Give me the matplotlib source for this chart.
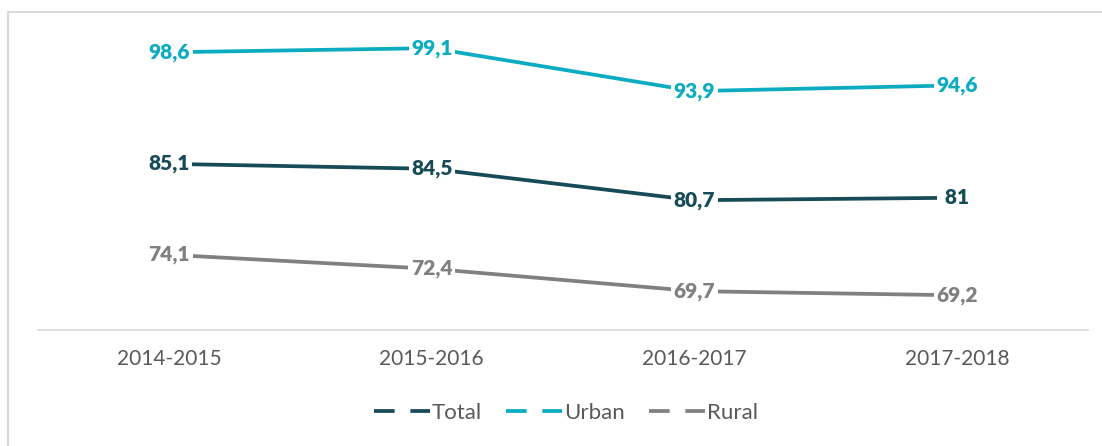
import matplotlib
matplotlib.use("Agg")
import matplotlib.pyplot as plt
from matplotlib.lines import Line2D
from matplotlib.patches import Rectangle

plt.rcParams['font.family'] = ['Lato', 'DejaVu Sans']

categories = ["2014-2015", "2015-2016", "2016-2017", "2017-2018"]
series_names = ["Total", "Urban", "Rural"]
total = [85.1, 84.5, 80.7, 81]
urban = [98.6, 99.1, 93.9, 94.6]
rural = [74.1, 72.4, 69.7, 69.2]
colors = {"Total": "#174B57", "Urban": "#0BACC2", "Rural": "#808080"}

W, H = 1102, 446
fig = plt.figure(figsize=(W / 100, H / 100), dpi=100)
fig.patch.set_facecolor("white")

# outer border (extends beyond right/bottom edge)
fig.patches.append(Rectangle((8 / W, -0.1), 1.2, 1 - 12 / H + 0.1,
                             transform=fig.transFigure, fill=False,
                             edgecolor="#D9D9D9", linewidth=1.5))

left, right = 38 / W, 1088 / W
bottom, top = 1 - 330 / H, 1 - 40.7 / H
ax = fig.add_axes([left, bottom, right - left, top - bottom])
ax.set_facecolor("none")

x = list(range(len(categories)))
data = {"Total": total, "Urban": urban, "Rural": rural}
for name in series_names:
    vals = data[name]
    c = colors[name]
    ax.plot(x, vals, color=c, linewidth=2.7, solid_capstyle="butt", zorder=2)
    for xi, v in zip(x, vals):
        s = f"{v:g}".replace(".", ",")
        s = s.center(4)
        ax.text(xi, v, s, color=c, fontsize=15, fontweight="heavy",
                ha="center", va="center", zorder=3,
                bbox=dict(boxstyle="square,pad=0.12", facecolor="white",
                          edgecolor="none"))

ax.set_xlim(-0.5, len(categories) - 0.5)
ax.set_ylim(65, 100)
ax.set_xticks(x)
ax.set_xticklabels(categories, fontsize=15, color="#595959")
ax.tick_params(axis="x", length=0, pad=14)
ax.set_yticks([])
for sp in ["top", "right", "left"]:
    ax.spines[sp].set_visible(False)
ax.spines["bottom"].set_color("#D9D9D9")
ax.spines["bottom"].set_linewidth(1.2)

handles = [Line2D([0], [0], color=colors[n], linewidth=2.7,
                  linestyle=(0, (5.5, 4.2))) for n in series_names]
leg = fig.legend(handles, series_names, loc="center",
                 bbox_to_anchor=(566 / W, 1 - 413 / H), ncol=3,
                 frameon=False, fontsize=16, handlelength=2.5,
                 handletextpad=0.1, columnspacing=1.1)
for t in leg.get_texts():
    t.set_color("#595959")

fig.savefig("out.png", dpi=100, facecolor="white")
